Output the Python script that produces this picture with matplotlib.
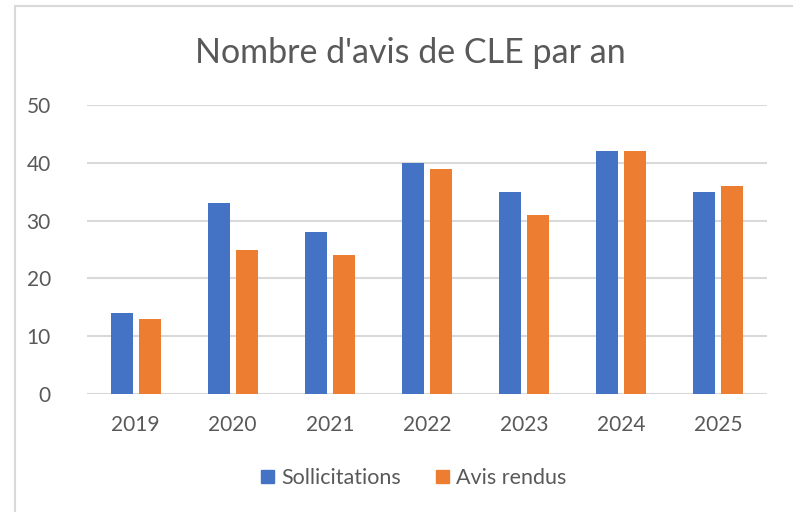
import matplotlib.pyplot as plt
import numpy as np
from matplotlib.patches import Rectangle

years = ['2019', '2020', '2021', '2022', '2023', '2024', '2025']
sollicitations = [14, 33, 28, 40, 35, 42, 35]
avis_rendus = [13, 25, 24, 39, 31, 42, 36]

blue = '#4472C4'
orange = '#ED7D31'
text_grey = '#595959'
grid_grey = '#D9D9D9'

plt.rcParams['font.family'] = ['Lato', 'DejaVu Sans']

fig = plt.figure(figsize=(7.93, 5.12), dpi=100)
fig.patch.set_facecolor('white')

# chart border (extends past the right/bottom edges like the screenshot)
fig.patches.append(Rectangle((15 / 793, -0.1), 1.2, 1 - 6 / 512 + 0.1,
                             transform=fig.transFigure, fill=False,
                             edgecolor=grid_grey, linewidth=1.5))

ax = fig.add_axes([87 / 793, 1 - 394 / 512, (767 - 87) / 793, (394 - 105) / 512])

x = np.arange(len(years))
w = 0.227
off = 0.144
ax.bar(x - off, sollicitations, w, color=blue, zorder=3)
ax.bar(x + off, avis_rendus, w, color=orange, zorder=3)

ax.set_xlim(-0.5, len(years) - 0.5)
ax.set_ylim(0, 50)
ax.set_yticks(range(0, 51, 10))
ax.set_xticks(x)
ax.set_xticklabels(years)
ax.yaxis.grid(True, color=grid_grey, linewidth=1.5, zorder=0)
for s in ax.spines.values():
    s.set_visible(False)
ax.tick_params(length=0, colors=text_grey, labelsize=15)
ax.tick_params(axis='y', pad=26)
ax.tick_params(axis='x', pad=15)

fig.text(410 / 793, 1 - 53 / 512, "Nombre d'avis de CLE par an", ha='center', va='center',
         fontsize=24.5, color=text_grey)

handles = [Rectangle((0, 0), 1, 1, color=blue), Rectangle((0, 0), 1, 1, color=orange)]
fig.legend(handles, ['Sollicitations', 'Avis rendus'], loc='center',
           bbox_to_anchor=(414 / 793, 1 - 478 / 512), ncol=2, frameon=False,
           fontsize=15.5, labelcolor=text_grey, handlelength=0.6, handleheight=0.6,
           handletextpad=0.35, columnspacing=1.6)

fig.savefig('out.png', dpi=100, facecolor='white')
